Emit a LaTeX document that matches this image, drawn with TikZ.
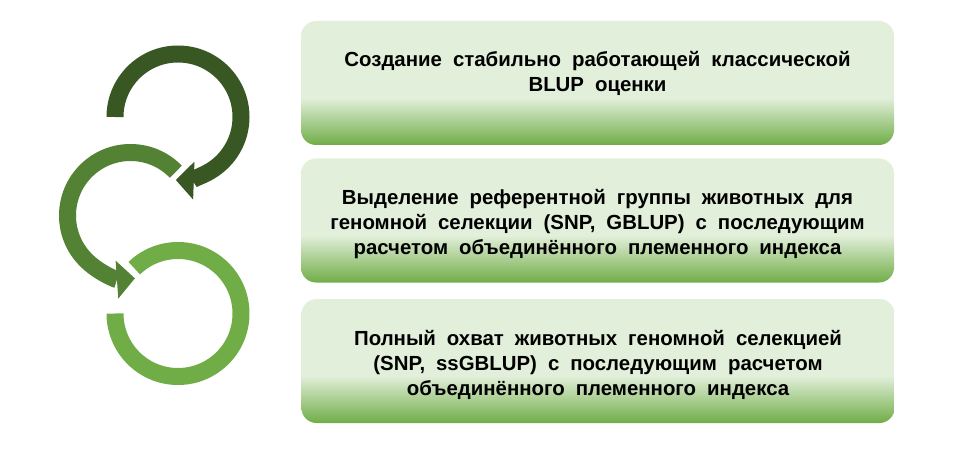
\documentclass[tikz,border=0pt]{standalone}
\usepackage{fontspec}
\setmainfont{Liberation Sans}
\usetikzlibrary{arrows.meta}

\definecolor{ringdark}{HTML}{385723}
\definecolor{ringmid}{HTML}{548235}
\definecolor{ringlight}{HTML}{70AD47}
\definecolor{boxlight}{HTML}{E2EFDA}
\definecolor{boxgreen}{HTML}{70AD47}

\pgfdeclareverticalshading{stagefade}{100bp}{color(0bp)=(boxgreen); color(25bp)=(boxgreen);
  color(44bp)=(boxlight); color(100bp)=(boxlight)}

\newcommand\stagefont{\fontsize{20.4}{25}\selectfont\bfseries\spaceskip=11pt\relax}

\begin{document}
\begin{tikzpicture}[x=1pt,y=1pt,
  ring/.style={line width=17pt},
  ring tip/.style={-{Triangle[width=38pt,length=18pt,line width=0pt]}},
  stage box/.style={rounded corners=15pt,shading=stagefade,minimum width=593pt,
    minimum height=124pt,inner sep=0pt},
  stage text/.style={align=center,inner sep=0pt,font=\stagefont}]

  \useasboundingbox (0,0) rectangle (960,464);

  % the three stages
  \node[stage box] (s1) at (597.5,381) {};
  \node[stage box] (s2) at (597.5,243.5) {};
  \node[stage box] (s3) at (598,103) {};

  \node[stage text] (t1) at ([yshift=10pt]s1.center) {Создание стабильно работающей классической\\BLUP оценки};
  \node[stage text] (t2) at ([yshift=-4pt]s2.center) {Выделение референтной группы животных для\\геномной селекции (SNP, GBLUP) с последующим\\расчетом объединённого племенного индекса};
  \node[stage text] (t3) at ([yshift=-4pt]s3.center) {Полный охват животных геномной селекцией\\(SNP, ssGBLUP) с последующим расчетом\\объединённого племенного индекса};

  % rings
  \coordinate (c1) at (178,347);
  \coordinate (c2) at (130.5,248.5);
  \coordinate (c3) at (178,150.5);

  \draw[ring,ringdark,ring tip] (c1) ++(180:63) arc[start angle=180,end angle=-92,radius=63];
  \draw[ring,ringmid,ring tip] (c2) ++(44:63) arc[start angle=44,end angle=274,radius=63];
  \draw[ring,ringlight] (c3) ++(134:63) arc[start angle=134,end angle=-180,radius=63];

\end{tikzpicture}
\end{document}
